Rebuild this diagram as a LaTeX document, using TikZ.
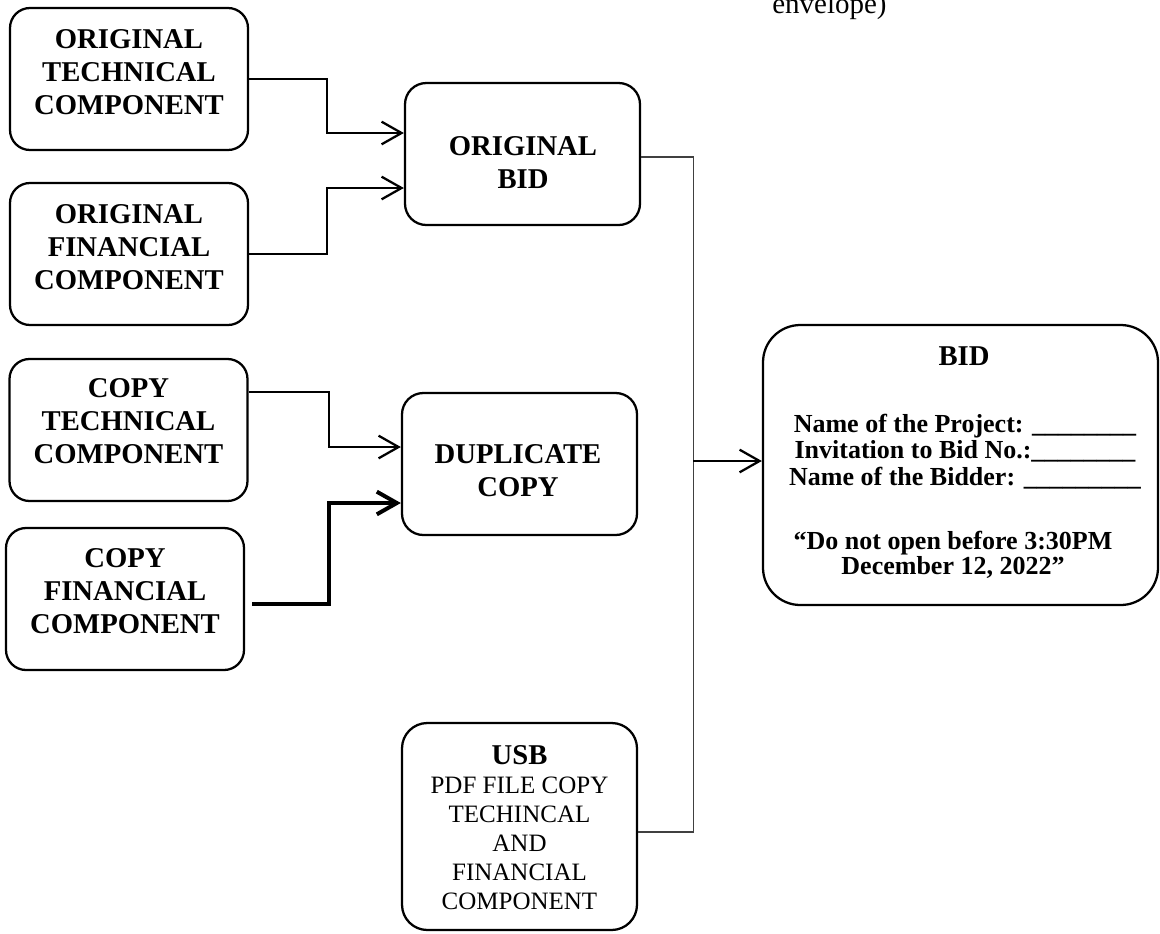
\documentclass[tikz,border=0pt]{standalone}
\usepackage{fontspec}
\setmainfont{Liberation Serif}
\usetikzlibrary{arrows.meta}

\begin{document}
\begin{tikzpicture}[
        x=0.75pt,y=-0.75pt,
        compbox/.style={draw,line width=1.7pt,rounded corners=15pt,minimum width=178.5pt,minimum height=106.5pt},
        bidbox/.style={draw,line width=1.7pt,rounded corners=16pt,minimum width=176.25pt,minimum height=106.5pt},
        usbbox/.style={draw,line width=1.7pt,rounded corners=19pt,minimum width=176.25pt,minimum height=155.25pt},
        envelopebox/.style={draw,line width=1.7pt,rounded corners=28pt,minimum width=296.25pt,minimum height=210pt},
        boldtext/.style={align=center,inner sep=0pt,font=\fontsize{21.5}{24.75}\selectfont\bfseries},
        fieldtext/.style={align=center,inner sep=0pt,font=\fontsize{19.5}{20}\selectfont\bfseries},
        feed/.style={line width=1.7pt,-{Straight Barb[length=15pt,width=17pt]}},
        trunk/.style={line width=0.8pt,black!75}
    ]

    \useasboundingbox (0,0) rectangle (1160,933);

    \node[inner sep=0pt,anchor=base west,font=\fontsize{21.75}{26}\selectfont] (sealnote) at (772,13) {envelope)};

    % components
    \node[compbox] (otech) at (129,79) {};
    \node[boldtext] (otech-text) at (129,72) {ORIGINAL\\TECHNICAL\\COMPONENT};

    \node[compbox] (ofin) at (129,254) {};
    \node[boldtext] (ofin-text) at (129,247) {ORIGINAL\\FINANCIAL\\COMPONENT};

    \node[compbox] (ctech) at (128.5,430) {};
    \node[boldtext] (ctech-text) at (128.5,421) {COPY\\TECHNICAL\\COMPONENT};

    \node[compbox] (cfin) at (125,599) {};
    \node[boldtext] (cfin-text) at (125,591) {COPY\\FINANCIAL\\COMPONENT};

    % bid parts
    \node[bidbox] (obid) at (522.5,154) {};
    \node[boldtext] (obid-text) at (523,163) {ORIGINAL\\BID};

    \node[bidbox] (dup) at (519.5,464) {};
    \node[boldtext] (dup-text) at (518,471) {DUPLICATE\\COPY};

    \node[usbbox] (usb) at (519.5,826.5) {};
    \node[align=center,inner sep=0pt,font=\fontsize{18.75}{21.75}\selectfont] (usb-text) at (519.5,827.5)
        {{\fontsize{21.5}{21.75}\selectfont\bfseries USB}\\PDF FILE COPY\\TECHINCAL\\AND\\FINANCIAL\\COMPONENT};

    % sealed bid
    \node[envelopebox] (bid) at (960.5,465) {};
    \node[boldtext] (bid-title) at (964,356) {BID};
    \node[fieldtext] (bid-fields) at (965,451.5)
        {Name of the Project: \_\_\_\_\_\_\_\_\\Invitation to Bid No.:\_\_\_\_\_\_\_\_\\Name of the Bidder: \_\_\_\_\_\_\_\_\_};
    \node[fieldtext,font=\fontsize{19.5}{18.75}\selectfont\bfseries] (bid-note) at (953,554.5)
        {“Do not open before 3:30PM\\December 12, 2022”};

    \draw[feed] (otech.east) -- ++(78,0) |- ([yshift=15.75pt]obid.west);
    \draw[feed] (ofin.east) -- ++(78,0) |- ([yshift=-25.5pt]obid.west);
    \draw[feed] ([yshift=28.5pt]ctech.east) -- ++(80,0) |- ([yshift=12.75pt]dup.west);
    \draw[feed,line width=3pt] ([xshift=5.25pt,yshift=-3.75pt]cfin.east) -- ++(77,0) |- ([yshift=-29.25pt]dup.west);

    \draw[trunk] ([yshift=-2.25pt]obid.east) -- ++(52,0) coordinate (junction) |- ([yshift=-4.125pt]usb.east);
    \coordinate (bidin) at ([yshift=3pt]bid.west);
    \draw[feed] (junction |- bidin) -- (bidin);

\end{tikzpicture}
\end{document}
